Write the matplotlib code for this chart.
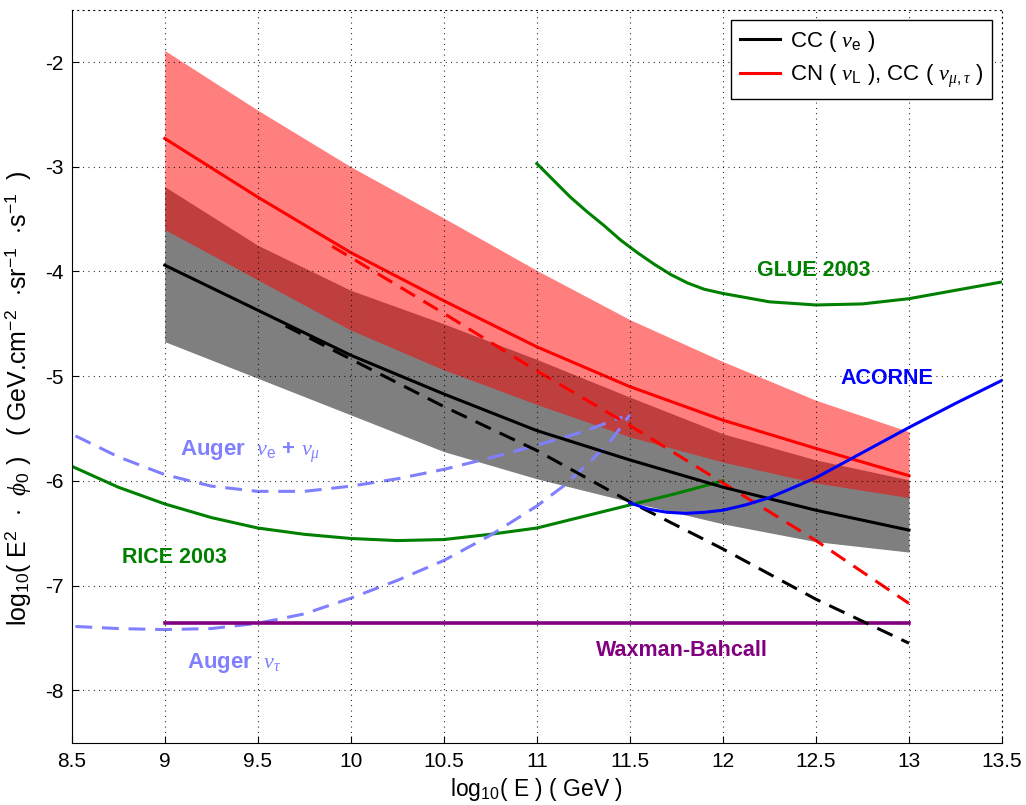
"""Neutrino flux sensitivity plot: CC / CN bands against experimental limits."""

import matplotlib

matplotlib.use("Agg")
import matplotlib.pyplot as plt

plt.rcParams["font.family"] = ["Liberation Sans", "DejaVu Sans"]
plt.rcParams["mathtext.fontset"] = "custom"
plt.rcParams["mathtext.rm"] = "Liberation Sans"
plt.rcParams["mathtext.it"] = "Liberation Serif:italic"
plt.rcParams["mathtext.bf"] = "Liberation Sans:bold"

# Bands and central curves (log10 E in GeV -> log10 E^2 phi)
BAND_X = [9.0, 9.5, 10.0, 10.5, 11.0, 11.5, 12.0, 12.5, 13.0]
RED_UPPER = [-1.89, -2.46, -3.00, -3.49, -3.99, -4.46, -4.86, -5.23, -5.53]
RED_LOWER = [-3.60, -4.08, -4.56, -4.94, -5.27, -5.58, -5.82, -6.02, -6.16]
GRAY_UPPER = [-3.19, -3.75, -4.18, -4.50, -4.84, -5.20, -5.55, -5.80, -5.99]
GRAY_LOWER = [-4.67, -5.02, -5.37, -5.72, -5.98, -6.20, -6.41, -6.58, -6.68]
CC_NUE = [-3.94, -4.37, -4.80, -5.17, -5.52, -5.80, -6.06, -6.28, -6.47]
CN_NUL = [-2.73, -3.29, -3.82, -4.28, -4.72, -5.10, -5.42, -5.69, -5.95]

# Dashed extensions
CC_EXT_X = [9.65, 10.5, 11.0, 11.5, 12.0, 12.5, 13.0]
CC_EXT_Y = [-4.52, -5.29, -5.71, -6.20, -6.65, -7.13, -7.55]
CN_EXT_X = [9.9, 10.5, 11.0, 11.5, 12.0, 12.5, 13.0]
CN_EXT_Y = [-3.76, -4.40, -4.95, -5.47, -6.02, -6.57, -7.17]

# Experimental limits
GLUE_X = [11.0, 11.09, 11.18, 11.27, 11.36, 11.45, 11.54, 11.63, 11.72, 11.81, 11.9, 12.0,
          12.25, 12.5, 12.75, 13.0, 13.25, 13.5]
GLUE_Y = [-2.97, -3.13, -3.29, -3.43, -3.56, -3.70, -3.82, -3.93, -4.03, -4.11, -4.17, -4.21,
          -4.29, -4.32, -4.31, -4.26, -4.18, -4.10]

ACORNE_X = [11.5, 11.6, 11.7, 11.8, 11.9, 12.0, 12.12, 12.25, 12.37, 12.5, 12.75, 13.0, 13.25,
            13.5]
ACORNE_Y = [-6.21, -6.27, -6.30, -6.31, -6.30, -6.28, -6.23, -6.16, -6.07, -5.97, -5.73, -5.49,
            -5.26, -5.04]

RICE_X = [8.5, 8.75, 9.0, 9.25, 9.5, 9.75, 10.0, 10.25, 10.5, 10.75, 11.0, 11.25, 11.5, 11.75,
          12.0]
RICE_Y = [-5.86, -6.06, -6.22, -6.35, -6.45, -6.51, -6.55, -6.57, -6.56, -6.51, -6.45, -6.34,
          -6.23, -6.12, -6.00]

AUGER_EM_X = [8.52, 8.75, 9.0, 9.25, 9.5, 9.75, 10.0, 10.25, 10.5, 10.75, 11.0, 11.25, 11.46]
AUGER_EM_Y = [-5.57, -5.77, -5.94, -6.05, -6.10, -6.10, -6.05, -5.98, -5.89, -5.78, -5.66,
              -5.53, -5.39]

AUGER_TAU_X = [8.52, 8.75, 9.0, 9.25, 9.5, 9.75, 10.0, 10.25, 10.5, 10.75, 11.0, 11.15, 11.3,
               11.4, 11.5]
AUGER_TAU_Y = [-7.39, -7.41, -7.42, -7.41, -7.36, -7.27, -7.12, -6.95, -6.76, -6.52, -6.24,
               -6.04, -5.79, -5.61, -5.37]

WB_X = [9.0, 13.0]
WB_Y = [-7.36, -7.36]

AUGER_COLOR = "#8080ff"
GREEN = "#008000"
PURPLE = "#800080"
DOTS = (0, (0.8, 4.0))
DASH = (0, (5.5, 3.2))
LW = 2.2
LABEL_SIZE = 15.5


def main():
    fig = plt.figure(figsize=(10.26, 8.05), dpi=100)
    ax = fig.add_axes([0.0699, 0.0774, 0.9067, 0.9106])

    # bands: gray first, translucent red on top gives the dark overlap
    ax.fill_between(BAND_X, GRAY_LOWER, GRAY_UPPER, color="black", alpha=0.5, lw=0)
    ax.fill_between(BAND_X, RED_LOWER, RED_UPPER, color="red", alpha=0.5, lw=0)

    ax.plot(RICE_X, RICE_Y, color=GREEN, lw=LW)
    ax.plot(GLUE_X, GLUE_Y, color=GREEN, lw=LW)
    ax.plot(AUGER_EM_X, AUGER_EM_Y, color=AUGER_COLOR, lw=LW, ls=DASH)
    ax.plot(AUGER_TAU_X, AUGER_TAU_Y, color=AUGER_COLOR, lw=LW, ls=DASH)
    ax.plot(WB_X, WB_Y, color=PURPLE, lw=LW + 0.4)

    ax.plot(CC_EXT_X, CC_EXT_Y, color="black", lw=LW, ls=DASH)
    ax.plot(CN_EXT_X, CN_EXT_Y, color="red", lw=LW, ls=DASH)
    h_cc, = ax.plot(BAND_X, CC_NUE, color="black", lw=LW, label=r"CC ( $\nu_\mathrm{e}$ )")
    h_cn, = ax.plot(BAND_X, CN_NUL, color="red", lw=LW,
                    label=r"CN ( $\nu_\mathrm{L}$ ), CC ( $\nu_{\mu,\tau}$ )")
    ax.plot(ACORNE_X, ACORNE_Y, color="blue", lw=LW)

    # curve labels
    ax.text(12.49, -3.99, "GLUE 2003", color=GREEN, fontsize=LABEL_SIZE, fontweight="bold",
            ha="center", va="center")
    ax.text(12.88, -5.02, "ACORNE", color="blue", fontsize=LABEL_SIZE, fontweight="bold",
            ha="center", va="center")
    ax.text(9.08, -5.72, r"Auger  $\nu_\mathrm{e}$ + $\nu_\mu$", color=AUGER_COLOR,
            fontsize=16, fontweight="bold", ha="left", va="center")
    ax.text(8.77, -6.73, "RICE 2003", color=GREEN, fontsize=LABEL_SIZE, fontweight="bold",
            ha="left", va="center")
    ax.text(9.12, -7.74, r"Auger  $\nu_\tau$", color=AUGER_COLOR, fontsize=16,
            fontweight="bold", ha="left", va="center")
    ax.text(11.78, -7.62, "Waxman-Bahcall", color=PURPLE, fontsize=LABEL_SIZE,
            fontweight="bold", ha="center", va="center")

    ax.set_xlim(8.5, 13.5)
    ax.set_ylim(-8.5, -1.5)
    ax.set_xticks([8.5, 9, 9.5, 10, 10.5, 11, 11.5, 12, 12.5, 13, 13.5])
    ax.set_xticklabels(["8.5", "9", "9.5", "10", "10.5", "11", "11.5", "12", "12.5", "13",
                        "13.5"])
    ax.set_yticks([-8, -7, -6, -5, -4, -3, -2])
    ax.set_yticklabels(["-8", "-7", "-6", "-5", "-4", "-3", "-2"])
    ax.tick_params(direction="in", length=5, labelsize=15)
    ax.tick_params(axis="x", pad=7)
    ax.tick_params(axis="y", pad=6)

    ax.grid(True, color="black", lw=0.8, ls=DOTS)
    ax.set_axisbelow(False)
    for side in ("top", "right"):
        ax.spines[side].set_linestyle(DOTS)
        ax.spines[side].set_linewidth(0.8)

    ax.set_xlabel(r"log$_{10}$( E ) ( GeV )", fontsize=16.5, labelpad=3)
    ax.set_ylabel(r"log$_{10}$( E$^2$  $\cdot$  $\phi_0$ )   ( GeV.cm$^{-2}$  $\cdot$sr$^{-1}$  "
                  r"$\cdot$s$^{-1}$  )", fontsize=18)
    ax.yaxis.set_label_coords(-0.042, 0.47)

    leg = ax.legend(handles=[h_cc, h_cn], loc="upper right", fontsize=16, fancybox=False,
                    framealpha=1, edgecolor="black", handlelength=1.8, handletextpad=0.45,
                    labelspacing=0.4, borderaxespad=0.45, borderpad=0.4)
    leg.get_frame().set_linewidth(1.0)

    fig.savefig("out.png", dpi=100)
    plt.close(fig)


if __name__ == "__main__":
    main()
